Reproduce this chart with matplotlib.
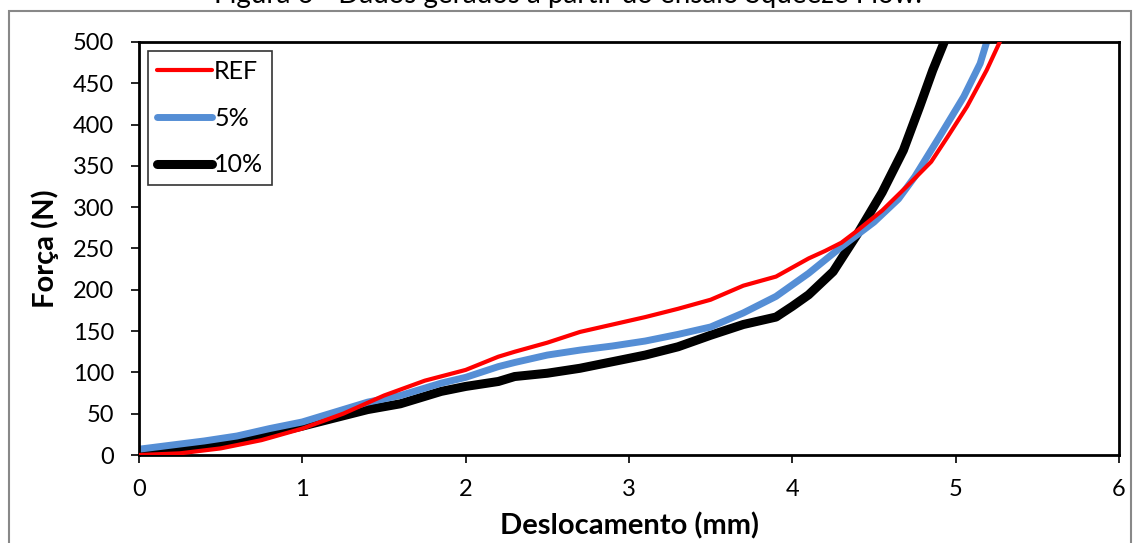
import matplotlib
matplotlib.use("Agg")
import matplotlib.pyplot as plt
from matplotlib.patches import Rectangle

plt.rcParams['font.family'] = ['Lato', 'DejaVu Sans']

# Data
ref_x = [0.0, 0.25, 0.5, 0.75, 1.0, 1.25, 1.5, 1.75, 2.0, 2.2, 2.3, 2.5, 2.7, 2.9,
         3.1, 3.3, 3.5, 3.7, 3.9, 4.1, 4.2, 4.3, 4.4, 4.55, 4.7, 4.85, 4.95, 5.07, 5.19, 5.27]
ref_y = [0, 2, 8, 18, 32, 50, 72, 90, 103, 119, 125, 136, 149, 158,
         167, 177, 188, 205, 216, 238, 247, 257, 272, 296, 325, 355, 385, 422, 466, 500]

p5_x = [0.0, 0.2, 0.4, 0.6, 0.8, 1.0, 1.2, 1.4, 1.6, 1.85, 2.0, 2.2, 2.3, 2.5, 2.7, 2.9,
        3.1, 3.3, 3.5, 3.7, 3.9, 4.1, 4.3, 4.5, 4.65, 4.75, 4.9, 5.05, 5.15, 5.19]
p5_y = [7, 12, 17, 23, 32, 40, 52, 64, 72, 87, 94, 107, 112, 121, 127, 132,
        138, 146, 155, 172, 192, 220, 252, 282, 310, 337, 385, 434, 474, 500]

p10_x = [0.0, 0.2, 0.4, 0.6, 0.8, 1.0, 1.2, 1.4, 1.6, 1.85, 2.0, 2.2, 2.3, 2.5, 2.7, 2.9,
         3.1, 3.3, 3.5, 3.7, 3.9, 4.0, 4.1, 4.25, 4.4, 4.55, 4.68, 4.78, 4.86, 4.93]
p10_y = [2, 6, 11, 18, 26, 35, 45, 55, 62, 77, 83, 89, 95, 99, 105, 113,
         121, 131, 145, 158, 167, 180, 194, 222, 268, 318, 369, 422, 466, 500]

labels = ['REF', '5%', '10%']
x_ticks = [0, 1, 2, 3, 4, 5, 6]
y_ticks = [0, 50, 100, 150, 200, 250, 300, 350, 400, 450, 500]

W, H = 1135, 543
fig = plt.figure(figsize=(W / 100, H / 100), dpi=100)

# gray outer border
fig.add_artist(Rectangle((9 / W, -0.01), (1131 - 9) / W, (H - 11) / H + 0.01,
                         transform=fig.transFigure, fill=False,
                         edgecolor='#888888', linewidth=1.5))

fig.text(0.5, 1 - 2.5 / H, 'Figura 6 - Dados gerados a partir do ensaio Squeeze Flow.',
         ha='center', va='baseline', fontsize=20, color='black')

ax = fig.add_axes([139 / W, 1 - 455 / H, (1119 - 139) / W, (455 - 42) / H])

ax.plot(ref_x, ref_y, color='#FF0000', lw=3.0, label=labels[0], solid_capstyle='round', zorder=3)
ax.plot(p5_x, p5_y, color='#558ED5', lw=5.0, label=labels[1], solid_capstyle='round', zorder=2)
ax.plot(p10_x, p10_y, color='#000000', lw=6.5, label=labels[2], solid_capstyle='round', zorder=1)

ax.set_xlim(0, 6)
ax.set_ylim(0, 500)
ax.set_xticks(x_ticks)
ax.set_yticks(y_ticks)
ax.tick_params(direction='out', length=6, width=1.2, labelsize=17, colors='black')
ax.tick_params(axis='x', pad=11)
ax.tick_params(axis='y', pad=12)
for s in ax.spines.values():
    s.set_linewidth(2.0)
    s.set_color('black')

ax.set_xlabel('Deslocamento (mm)', fontsize=21, fontweight='bold', labelpad=9)
ax.set_ylabel('Força (N)', fontsize=21, fontweight='bold', labelpad=10)

leg = ax.legend(loc='upper left', bbox_to_anchor=(0.009, 0.978), fontsize=18,
                frameon=True, fancybox=False, edgecolor='black', handlelength=2.2,
                handletextpad=0.1, labelspacing=0.95, borderpad=0.35, borderaxespad=0)
leg.get_frame().set_linewidth(1.2)
handles = leg.legend_handles if hasattr(leg, 'legend_handles') else leg.legendHandles
for h in handles:
    h.set_solid_capstyle('round')

fig.savefig('out.png', dpi=100)
